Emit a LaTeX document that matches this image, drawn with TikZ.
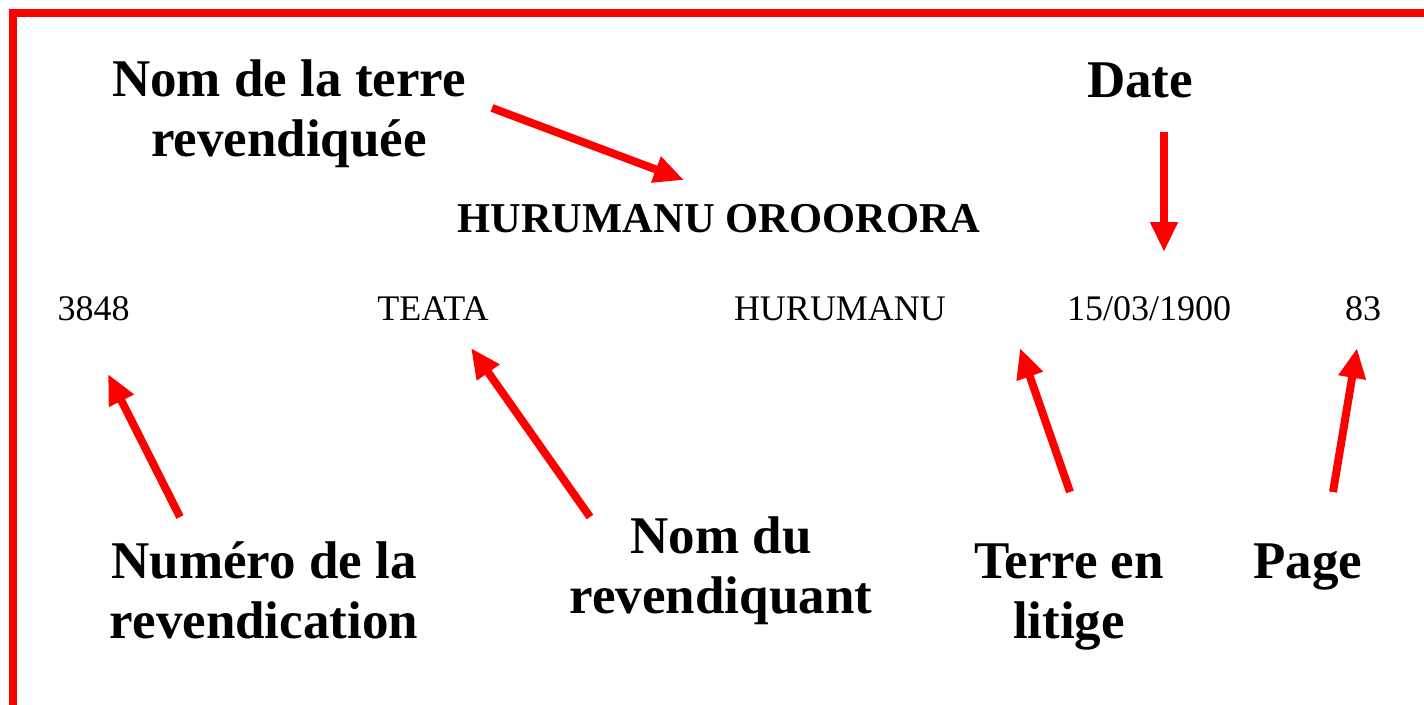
\documentclass[tikz,border=0pt]{standalone}
\usepackage{fontspec}
\setmainfont{Liberation Serif}
\usetikzlibrary{arrows.meta}
\definecolor{bred}{RGB}{255,0,0}
\tikzset{
  lbl/.style={font=\fontsize{53}{60}\selectfont\bfseries, align=center, inner sep=0pt, anchor=base},
  ttl/.style={font=\fontsize{42.5}{50}\selectfont\bfseries, inner sep=0pt, anchor=base},
  val/.style={font=\fontsize{36}{40}\selectfont, inner sep=0pt, anchor=base},
  pointer/.style={draw=bred, line width=8pt, -{Triangle[length=30pt,width=26pt]}},
  frame/.style={draw=bred, line width=8pt}
}
\begin{document}
\begin{tikzpicture}[x=1pt,y=-1pt]
\useasboundingbox (0,0) rectangle (1424,704);
\clip (0,0) rectangle (1424,704);
% frame
\coordinate (fr1) at (1440,13);
\coordinate (fr2) at (13,13);
\coordinate (fr3) at (13,720);
\draw[frame] (fr1) -- (fr2) -- (fr3);
% labels (base anchor = last line's baseline)
\node[lbl] (lterre) at (289,156) {Nom de la terre\\revendiquée};
\node[lbl] (ldate) at (1140,97) {Date};
\node[ttl] (titre) at (719,232) {HURUMANU OROORORA};
\node[val] (vnum) at (93.5,320) {3848};
\node[val] (vrev) at (433,320) {TEATA};
\node[val] (vter) at (840,320) {HURUMANU};
\node[val] (vdate) at (1149,320) {15/03/1900};
\node[val] (vpage) at (1363,320) {83};
\node[lbl] (lnum) at (264,638) {Numéro de la\\revendication};
\node[lbl] (lrev) at (721,613) {Nom du\\revendiquant};
\node[lbl] (llit) at (1069,638) {Terre en\\litige};
\node[lbl] (lpage) at (1308,578) {Page};
% arrow ends
\coordinate (a1s) at (492,108);  \coordinate (a1e) at (684,180);
\coordinate (a2s) at (1164,132); \coordinate (a2e) at (1164,252);
\coordinate (a3s) at (180,517);  \coordinate (a3e) at (108,374);
\coordinate (a4s) at (590,517);  \coordinate (a4e) at (471,348);
\coordinate (a5s) at (1070,492); \coordinate (a5e) at (1020,348);
\coordinate (a6s) at (1333,492); \coordinate (a6e) at (1357,348);
\draw[pointer] (a1s) -- (a1e);
\draw[pointer] (a2s) -- (a2e);
\draw[pointer] (a3s) -- (a3e);
\draw[pointer] (a4s) -- (a4e);
\draw[pointer] (a5s) -- (a5e);
\draw[pointer] (a6s) -- (a6e);
\end{tikzpicture}
\end{document}
